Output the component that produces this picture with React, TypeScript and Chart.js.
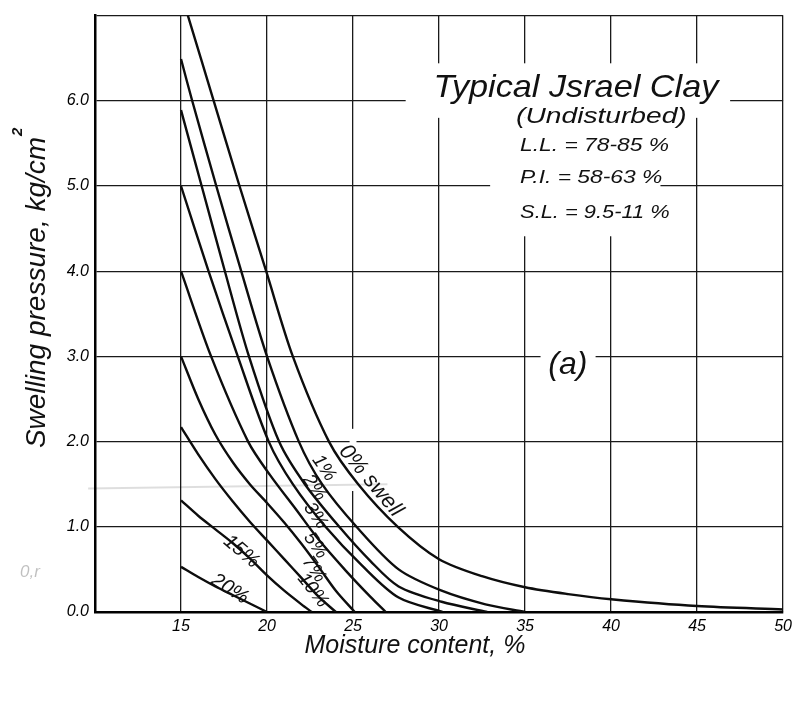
import React, { useEffect, useRef } from 'react';
import { Chart, registerables } from 'chart.js';

Chart.register(...registerables);

// ---- axes ----
const xTicks = [10, 15, 20, 25, 30, 35, 40, 45, 50];
const yTicks = [0, 1, 2, 3, 4, 5, 6, 7];

// ---- curves of equal swell (moisture content %, swelling pressure kg/cm2) ----
const swellNames = ['0% swell', '1%', '2%', '3%', '5%', '7%', '10%', '15%', '20%'];

const swell0X = [15.4, 16.9, 18.4, 19.95, 21.5, 23.6, 25.3, 27.6, 30, 32.5, 35, 37.5, 40, 45, 50];
const swell0Y = [7.0, 6.0, 5.0, 4.0, 3.0, 2.0, 1.5, 1.0, 0.62, 0.42, 0.29, 0.21, 0.15, 0.07, 0.03];

const swell1X = [15, 15.65, 17.05, 18.5, 20.0, 21.85, 23.2, 25.2, 27.65, 30.15, 32.7, 35];
const swell1Y = [6.49, 6.0, 5.0, 4.0, 3.0, 2.0, 1.5, 1.0, 0.5, 0.25, 0.09, 0];

const swell2X = [15, 16.2, 17.55, 18.95, 20.7, 22.2, 24.2, 26.0, 27.65, 30.15, 32.8];
const swell2Y = [5.89, 5.0, 4.0, 3.0, 2.0, 1.5, 1.0, 0.6, 0.3, 0.12, 0];

const swell3X = [15, 16.6, 18.3, 20.1, 21.5, 23.4, 25.5, 27.65, 30.2];
const swell3Y = [5.0, 4.0, 3.0, 2.0, 1.5, 1.0, 0.55, 0.17, 0];

const swell5X = [15, 16.75, 18.9, 20.2, 21.7, 23.0, 24.6, 26.0, 26.9];
const swell5Y = [4.0, 3.0, 2.0, 1.6, 1.2, 0.85, 0.48, 0.18, 0];

const swell7X = [15, 16, 17, 18, 19, 20, 21, 22, 23, 24, 25.1];
const swell7Y = [3.0, 2.5, 2.08, 1.76, 1.5, 1.28, 1.05, 0.8, 0.53, 0.25, 0];

const swell10X = [15, 16, 17, 18, 19, 20, 21, 22, 23, 24];
const swell10Y = [2.17, 1.85, 1.56, 1.3, 1.06, 0.84, 0.62, 0.4, 0.18, 0];

const swell15X = [15, 16, 17, 18, 19, 20, 21, 22, 22.6];
const swell15Y = [1.31, 1.13, 0.97, 0.81, 0.63, 0.43, 0.25, 0.09, 0];

const swell20X = [15, 16, 17, 18, 19, 20];
const swell20Y = [0.53, 0.41, 0.3, 0.2, 0.1, 0];

const seriesX = [swell0X, swell1X, swell2X, swell3X, swell5X, swell7X, swell10X, swell15X, swell20X];
const seriesY = [swell0Y, swell1Y, swell2Y, swell3Y, swell5Y, swell7Y, swell10Y, swell15Y, swell20Y];

// ---- curve label placement (data units) ----
const labelX = [26.03, 23.31, 22.76, 22.82, 22.82, 22.73, 22.67, 18.51, 17.84];
const labelY = [1.54, 1.69, 1.46, 1.13, 0.78, 0.5, 0.255, 0.71, 0.27];
const labelAngle = [50, 55, 55, 55, 55, 55, 52, 40, 32];
const labelSize = [22, 19, 19, 19, 19, 19, 19, 20, 20];

// ---- info block text ----
const titleText = 'Typical Jsrael Clay';
const infoLines = ['(Undisturbed)', 'L.L. = 78-85 %', 'P.I. = 58-63 %', 'S.L. = 9.5-11 %'];
const infoX = [34.48, 34.71, 34.71, 34.71];
const infoY = [5.74, 5.41, 5.03, 4.63];
const infoSize = [22, 19, 19, 19];
const infoStretch = [1.28, 1.2, 1.2, 1.15];

// white masks behind lettering [x1, y1, x2, y2]
const maskBoxes = [
  [28.06, 6.44, 46.92, 5.8],
  [32.97, 5.8, 42.87, 4.41],
  [35.9, 3.17, 39.1, 2.66],
  [24.8, 2.15, 25.2, 1.42],
];

const FONT = '"Liberation Sans", Arial, sans-serif';

function stretchText(ctx: CanvasRenderingContext2D, text: string, px: number, py: number, font: string, sx: number) {
  ctx.save();
  ctx.translate(px, py);
  ctx.scale(sx, 1);
  ctx.font = font;
  ctx.textAlign = 'left';
  ctx.textBaseline = 'alphabetic';
  ctx.fillText(text, 0, 0);
  ctx.restore();
}

export default function App() {
  const canvasRef = useRef<HTMLCanvasElement | null>(null);

  useEffect(() => {
    document.body.style.margin = '0';
    const canvas = canvasRef.current;
    if (!canvas) return;

    const datasets = seriesX.map((xs, i) => ({
      label: swellNames[i],
      data: xs.map((x, j) => ({ x, y: seriesY[i][j] })),
      borderColor: '#0d0d0d',
      borderWidth: 2.4,
      pointRadius: 0,
      fill: false,
      tension: 0.3,
    }));

    const annot = {
      id: 'annot',
      beforeDatasetsDraw(chart: any) {
        const { ctx, scales } = chart;
        const xs = scales.x;
        const ys = scales.y;
        ctx.save();
        ctx.fillStyle = '#ffffff';
        maskBoxes.forEach((b) => {
          const x1 = xs.getPixelForValue(b[0]);
          const x2 = xs.getPixelForValue(b[2]);
          const y1 = ys.getPixelForValue(b[1]);
          const y2 = ys.getPixelForValue(b[3]);
          ctx.fillRect(x1, y1, x2 - x1, y2 - y1);
        });
        // faint pencil stroke
        ctx.strokeStyle = 'rgba(0,0,0,0.13)';
        ctx.lineWidth = 2;
        ctx.beginPath();
        ctx.moveTo(xs.getPixelForValue(9.6), ys.getPixelForValue(1.45));
        ctx.lineTo(xs.getPixelForValue(27), ys.getPixelForValue(1.5));
        ctx.stroke();
        ctx.restore();
      },
      afterDatasetsDraw(chart: any) {
        const { ctx, scales, chartArea } = chart;
        const xs = scales.x;
        const ys = scales.y;
        ctx.save();
        ctx.fillStyle = '#111';

        // curve labels
        swellNames.forEach((t, i) => {
          ctx.save();
          ctx.translate(xs.getPixelForValue(labelX[i]), ys.getPixelForValue(labelY[i]));
          ctx.rotate((labelAngle[i] * Math.PI) / 180);
          ctx.font = `italic ${labelSize[i]}px ${FONT}`;
          ctx.textAlign = 'center';
          ctx.textBaseline = 'middle';
          ctx.fillText(t, 0, 0);
          ctx.restore();
        });

        // title block
        stretchText(ctx, titleText, xs.getPixelForValue(29.68), ys.getPixelForValue(6.05), `italic 32px ${FONT}`, 1.07);
        infoLines.forEach((t, i) => {
          stretchText(ctx, t, xs.getPixelForValue(infoX[i]), ys.getPixelForValue(infoY[i]), `italic ${infoSize[i]}px ${FONT}`, infoStretch[i]);
        });

        // (a)
        ctx.font = `italic 32px ${FONT}`;
        ctx.textAlign = 'center';
        ctx.textBaseline = 'middle';
        ctx.fillText('(a)', xs.getPixelForValue(37.49), ys.getPixelForValue(2.9));

        // x axis title
        ctx.font = `italic 25px ${FONT}`;
        ctx.fillText('Moisture content, %', xs.getPixelForValue(28.6), chartArea.bottom + 34);

        // y axis title
        ctx.save();
        ctx.translate(chartArea.left - 58, ys.getPixelForValue(3.75));
        ctx.rotate(-Math.PI / 2);
        ctx.font = `italic 28px ${FONT}`;
        const yt = 'Swelling pressure, kg/cm';
        const w = ctx.measureText(yt).width;
        ctx.fillText(yt, 0, 0);
        ctx.font = `bold italic 15px ${FONT}`;
        ctx.textAlign = 'left';
        ctx.fillText('2', w / 2 + 1, -19);
        ctx.restore();

        // pencil note
        ctx.fillStyle = 'rgba(0,0,0,0.25)';
        ctx.font = `italic 17px ${FONT}`;
        ctx.textAlign = 'center';
        ctx.fillText('0,r', chartArea.left - 65, ys.getPixelForValue(0.47));
        ctx.restore();
      },
    };

    const chart = new Chart(canvas, {
      type: 'line',
      data: { datasets },
      options: {
        animation: false,
        responsive: false,
        devicePixelRatio: 1,
        layout: { padding: { top: 9, right: 11, left: 0, bottom: 0 } },
        plugins: { legend: { display: false }, tooltip: { enabled: false } },
        scales: {
          x: {
            type: 'linear',
            min: 10,
            max: 50,
            afterBuildTicks: (s: any) => {
              s.ticks = xTicks.map((v) => ({ value: v }));
            },
            afterFit: (s: any) => {
              s.height = 90;
            },
            ticks: {
              autoSkip: false,
              maxRotation: 0,
              padding: 5,
              color: '#000',
              font: { family: FONT, size: 16, style: 'italic' },
              callback: (v: any) => (v === 10 ? '' : String(v)),
            },
            grid: { color: '#1a1a1a', lineWidth: 1.3, drawTicks: false },
            border: { color: '#000', width: 2.5 },
          },
          y: {
            type: 'linear',
            min: 0,
            max: 7,
            afterBuildTicks: (s: any) => {
              s.ticks = yTicks.map((v) => ({ value: v }));
            },
            afterFit: (s: any) => {
              s.width = 95;
            },
            ticks: {
              autoSkip: false,
              padding: 6,
              color: '#000',
              font: { family: FONT, size: 16, style: 'italic' },
              callback: (v: any) => (v === 7 ? '' : Number(v).toFixed(1)),
            },
            grid: { color: '#1a1a1a', lineWidth: 1.3, drawTicks: false },
            border: { color: '#000', width: 2.5 },
          },
        },
      },
      plugins: [annot],
    });

    return () => chart.destroy();
  }, []);

  return (
    <div style={{ width: 797, height: 702, background: '#fff' }}>
      <canvas ref={canvasRef} width={797} height={702} style={{ display: 'block' }} />
    </div>
  );
}
